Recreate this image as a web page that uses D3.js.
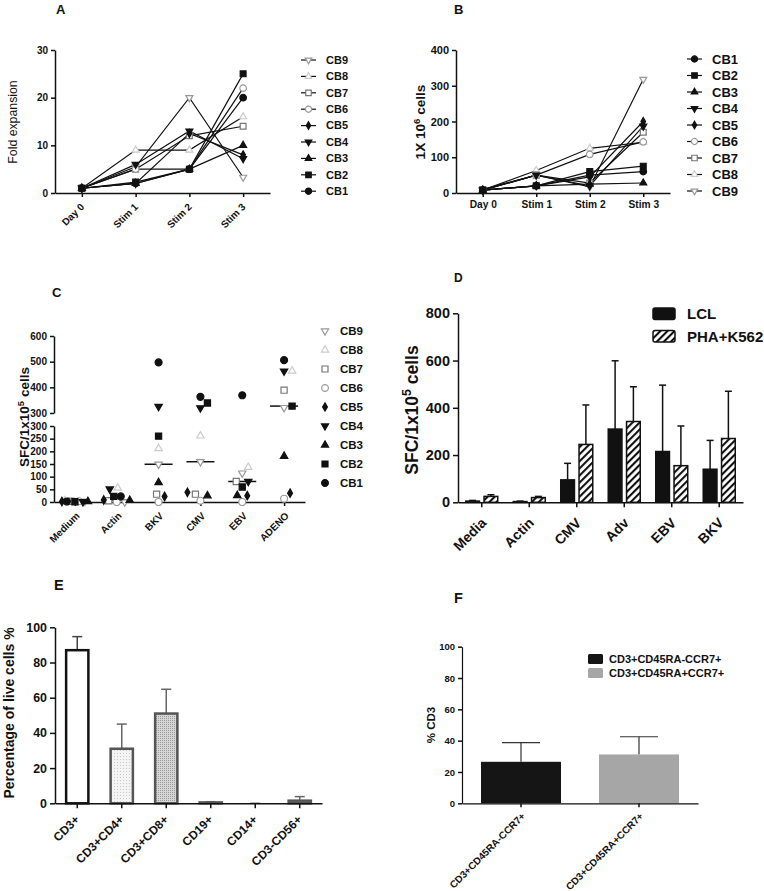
<!DOCTYPE html>
<html>
<head>
<meta charset="utf-8">
<script src="https://d3js.org/d3.v7.min.js"></script>
<style>
  body { margin: 0; background: #fff; }
  svg text { font-family: 'Liberation Sans', Arial, sans-serif; }
</style>
</head>
<body>
<svg id="fig" width="764" height="891"></svg>
<script>
// ---- data ----
const donors = ['CB1', 'CB2', 'CB3', 'CB4', 'CB5', 'CB6', 'CB7', 'CB8', 'CB9']
const timepoints = ['Day 0', 'Stim 1', 'Stim 2', 'Stim 3']

// A: fold expansion, one row per donor
const foldExpansion = [
  [1, 2, 5, 20],
  [1, 2.3, 5, 25],
  [1, 2, 5, 10],
  [1, 6, 13, 7.2],
  [1, 2, 12.5, 8],
  [1, 5, 5, 22],
  [1, 5, 12, 14],
  [1, 9, 9, 16],
  [1, 5.5, 20, 3.3]
]

// B: cell numbers (1x10^6), one row per donor
const cellNumbers = [
  [8, 20, 50, 60],
  [8, 20, 60, 75],
  [8, 20, 25, 28],
  [8, 50, 20, 187],
  [8, 20, 45, 200],
  [8, 50, 108, 143],
  [10, 50, 28, 170],
  [8, 63, 125, 142],
  [8, 50, 17, 318]
]

// C: SFC per donor for each antigen
const antigens = ['Medium', 'Actin', 'BKV', 'CMV', 'EBV', 'ADENO']
const sfcDonor = [
  [2, 22, 497, 363, 369, 506],
  [1, 22, 260, 339, 59, 327],
  [2, 7, 77, 25, 26, 181],
  [1, 51, 325, 320, 81, 463],
  [2, 8, 22, 38, 25, 35],
  [3, 0, 0, 5, 0, 13],
  [3, 5, 31, 31, 81, 389],
  [5, 55, 211, 261, 137, 464],
  [3, 0, 149, 159, 114, 321]
]

// D: mean and SD for LCL and PHA+K562
const peptides = ['Media', 'Actin', 'CMV', 'Adv', 'EBV', 'BKV']
const lclMean = [5, 3, 95, 310, 215, 140]
const lclSd = [3, 2, 70, 289, 281, 122]
const phaMean = [25, 20, 245, 342, 155, 270]
const phaSd = [7, 5, 167, 147, 168, 200]

// E: phenotype
const subsets = ['CD3+', 'CD3+CD4+', 'CD3+CD8+', 'CD19+', 'CD14+', 'CD3-CD56+']
const subsetMean = [87, 31, 51, 0.5, 0, 1.5]
const subsetSd = [7.7, 14, 13.8, 0.4, 0, 2.3]

// F: memory subsets
const memory = ['CD3+CD45RA-CCR7+', 'CD3+CD45RA+CCR7+']
const memoryMean = [26.5, 31.2]
const memorySd = [12.2, 11.3]

// ---- styles ----
const donorStyle = {
  CB1: { shape: d3.symbolCircle, fill: '#111', stroke: '#111', k: 1 },
  CB2: { shape: d3.symbolSquare, fill: '#111', stroke: '#111', k: 1 },
  CB3: { shape: d3.symbolTriangle, fill: '#111', stroke: '#111', k: 0.62 },
  CB4: { shape: d3.symbolTriangle, fill: '#111', stroke: '#111', k: 0.62, down: true },
  CB5: { shape: d3.symbolDiamond, fill: '#111', stroke: '#111', k: 0.55 },
  CB6: { shape: d3.symbolCircle, fill: '#fff', stroke: '#999', k: 1 },
  CB7: { shape: d3.symbolSquare, fill: '#fff', stroke: '#777', k: 1 },
  CB8: { shape: d3.symbolTriangle, fill: '#fff', stroke: '#ccc', k: 0.62 },
  CB9: { shape: d3.symbolTriangle, fill: '#fff', stroke: '#999', k: 0.62, down: true }
}

const svg = d3.select('#fig')
svg.append('rect').attr('width', 764).attr('height', 891).attr('fill', '#fff')

const defs = svg.append('defs')
const hatch = defs.append('pattern').attr('id', 'hatch')
  .attr('patternUnits', 'userSpaceOnUse').attr('width', 5).attr('height', 5)
  .attr('patternTransform', 'rotate(45)')
hatch.append('rect').attr('width', 5).attr('height', 5).attr('fill', '#fff')
hatch.append('line').attr('x1', 1).attr('y1', 0).attr('x2', 1).attr('y2', 5)
  .attr('stroke', '#111').attr('stroke-width', 2.2)

const dotsLight = defs.append('pattern').attr('id', 'dotsLight')
  .attr('patternUnits', 'userSpaceOnUse').attr('width', 3).attr('height', 3)
dotsLight.append('rect').attr('width', 3).attr('height', 3).attr('fill', '#f4f4f4')
dotsLight.append('rect').attr('width', 1).attr('height', 1).attr('fill', '#c8c8c8')

const dotsDark = defs.append('pattern').attr('id', 'dotsDark')
  .attr('patternUnits', 'userSpaceOnUse').attr('width', 2).attr('height', 2)
dotsDark.append('rect').attr('width', 2).attr('height', 2).attr('fill', '#d6d6d6')
dotsDark.append('rect').attr('width', 1).attr('height', 1).attr('fill', '#9a9a9a')

// ---- helpers ----
function fmtAxis (g, size) {
  g.attr('font-size', size).attr('font-weight', 'bold')
  g.select('.domain').attr('stroke', '#111').attr('stroke-width', 1.5)
  g.selectAll('.tick line').attr('stroke', '#111').attr('stroke-width', 1.5)
  g.selectAll('.tick text').attr('fill', '#111')
}

function rotateLabels (g, dx, dy) {
  g.selectAll('.tick text')
    .attr('x', 0).attr('y', 0).attr('dy', '0.35em')
    .attr('text-anchor', 'end')
    .attr('transform', `translate(${dx},${dy}) rotate(-45)`)
}

function yLabel (x, y, size, weight, main, sup, rest) {
  const t = svg.append('text')
    .attr('transform', `translate(${x},${y}) rotate(-90)`)
    .attr('text-anchor', 'middle')
    .attr('font-size', size).attr('font-weight', weight).attr('fill', '#111')
  t.append('tspan').text(main)
  if (sup) {
    const shift = size * 0.4
    t.append('tspan').attr('dy', -shift).attr('font-size', size * 0.7).text(sup)
    t.append('tspan').attr('dy', shift).text(rest)
  }
}

function panelLabel (txt, x, y, size) {
  svg.append('text').attr('x', x).attr('y', y)
    .attr('font-size', size).attr('font-weight', 'bold').attr('fill', '#111').text(txt)
}

function drawSymbol (g, donor, x, y, size) {
  const s = donorStyle[donor]
  g.append('path')
    .attr('d', d3.symbol().type(s.shape).size(size * s.k)())
    .attr('transform', `translate(${x},${y})` + (s.down ? ' rotate(180)' : ''))
    .attr('fill', s.fill)
    .attr('stroke', s.stroke)
    .attr('stroke-width', 1.2)
}

function linePanel (values, x, y) {
  const g = svg.append('g')
  const line = d3.line().x((d, j) => x(timepoints[j])).y(d => y(d))
  donors.forEach((dn, i) => {
    g.append('path').datum(values[i]).attr('d', line)
      .attr('fill', 'none').attr('stroke', '#111').attr('stroke-width', 1.2)
  })
  donors.slice().reverse().forEach(dn => {
    const i = donors.indexOf(dn)
    values[i].forEach((v, j) => drawSymbol(g, dn, x(timepoints[j]), y(v), 34))
  })
}

function lineLegend (order, x, y0, dy, size) {
  const g = svg.append('g')
  order.forEach((dn, i) => {
    const y = y0 + i * dy
    g.append('line').attr('x1', x).attr('x2', x + 15).attr('y1', y).attr('y2', y)
      .attr('stroke', '#111').attr('stroke-width', 1.2)
    drawSymbol(g, dn, x + 7.5, y, 30)
    g.append('text').attr('x', x + 25).attr('y', y).attr('dy', '0.35em')
      .attr('font-size', size).attr('font-weight', 'bold').attr('fill', '#111').text(dn)
  })
}

// ---- Panel A ----
panelLabel('A', 56, 14, 13)
const xA = d3.scalePoint().domain(timepoints).range([55, 270]).padding(0.5)
const yA = d3.scaleLinear().domain([0, 30]).range([193, 50])
const axA = svg.append('g').attr('transform', 'translate(0,193)')
  .call(d3.axisBottom(xA).tickSize(4).tickSizeOuter(0))
fmtAxis(axA, 10)
rotateLabels(axA, 0, 12)
const ayA = svg.append('g').attr('transform', 'translate(55,0)')
  .call(d3.axisLeft(yA).tickValues([0, 10, 20, 30]).tickSize(4).tickSizeOuter(0))
fmtAxis(ayA, 10)
yLabel(17, 122, 12.3, 'normal', 'Fold expansion')
linePanel(foldExpansion, xA, yA)
lineLegend(donors.slice().reverse(), 301, 60, 16.4, 11)

// ---- Panel B ----
panelLabel('B', 454, 14, 13)
const xB = d3.scalePoint().domain(timepoints).range([456, 670]).padding(0.5)
const yB = d3.scaleLinear().domain([0, 400]).range([193, 50])
const axB = svg.append('g').attr('transform', 'translate(0,193)')
  .call(d3.axisBottom(xB).tickSize(4).tickSizeOuter(0))
fmtAxis(axB, 10.2)
axB.selectAll('.tick text').attr('y', 8)
const ayB = svg.append('g').attr('transform', 'translate(456,0)')
  .call(d3.axisLeft(yB).tickValues([0, 100, 200, 300, 400]).tickSize(4).tickSizeOuter(0))
fmtAxis(ayB, 11)
yLabel(425, 122, 13.6, 'bold', '1X 10', '6', ' cells')
linePanel(cellNumbers, xB, yB)
lineLegend(donors, 687, 59, 16.5, 13)

// ---- Panel C ----
panelLabel('C', 52, 297, 13)
const xC = d3.scalePoint().domain(antigens).range([54, 305]).padding(0.5)
const yCLow = d3.scaleLinear().domain([0, 300]).range([502, 426])
const yCHigh = d3.scaleLinear().domain([300, 600]).range([413, 336])
const yC = v => v <= 300 ? yCLow(v) : yCHigh(v)
const axC = svg.append('g').attr('transform', 'translate(0,502)')
  .call(d3.axisBottom(xC).tickSize(4).tickSizeOuter(0))
fmtAxis(axC, 10)
rotateLabels(axC, 2.5, 12)
const ayCLow = svg.append('g').attr('transform', 'translate(54,0)')
  .call(d3.axisLeft(yCLow).tickValues(d3.range(0, 301, 50)).tickSize(4).tickSizeOuter(0))
fmtAxis(ayCLow, 10)
const ayCHigh = svg.append('g').attr('transform', 'translate(54,0)')
  .call(d3.axisLeft(yCHigh).tickValues([300, 400, 500, 600]).tickSize(4).tickSizeOuter(0))
fmtAxis(ayCHigh, 10)
yLabel(29, 417, 13.5, 'bold', 'SFC/1x10', '5', ' cells')

// scatter with a small greedy swarm inside each column
const gC = svg.append('g')
antigens.forEach((ag, j) => {
  const cx = xC(ag)
  const pts = donors.map((dn, i) => ({ dn, v: sfcDonor[i][j], py: yC(sfcDonor[i][j]) }))
  const order = d3.range(pts.length).sort((a, b) => pts[a].v - pts[b].v)
  const cands = [0]
  for (let k = 1; k <= 13; k++) cands.push(k, -k)
  const placed = []
  order.forEach(i => {
    let best = 0
    let bestScore = -1
    for (const dx of cands) {
      const minD = placed.length ? d3.min(placed, p => Math.hypot(p.dx - dx, p.py - pts[i].py)) : Infinity
      if (minD >= 8) { best = dx; break }
      if (minD > bestScore) { bestScore = minD; best = dx }
    }
    pts[i].dx = best
    placed.push(pts[i])
  })
  const med = d3.median(pts, p => p.v)
  gC.append('line').attr('x1', cx - 14).attr('x2', cx + 14)
    .attr('y1', yC(med)).attr('y2', yC(med)).attr('stroke', '#111').attr('stroke-width', 1.5)
  donors.slice().reverse().forEach(dn => {
    const p = pts.find(q => q.dn === dn)
    drawSymbol(gC, dn, cx + p.dx, p.py, 38)
  })
})
// legend C
donors.slice().reverse().forEach((dn, i) => {
  const y = 331 + i * 19
  drawSymbol(gC, dn, 325, y, 36)
  gC.append('text').attr('x', 340).attr('y', y).attr('dy', '0.35em')
    .attr('font-size', 11.5).attr('font-weight', 'bold').attr('fill', '#111').text(dn)
})

// ---- Panel D ----
panelLabel('D', 454, 282, 12)
const xD = d3.scaleBand().domain(peptides).range([458, 743]).paddingInner(0.326).paddingOuter(0.163)
const xDsub = d3.scaleBand().domain(['LCL', 'PHA']).range([0, xD.bandwidth()]).paddingInner(0.25)
const yD = d3.scaleLinear().domain([0, 800]).range([502.3, 313.3])
const axD = svg.append('g').attr('transform', 'translate(0,502.3)')
  .call(d3.axisBottom(xD).tickSize(5).tickSizeOuter(0))
fmtAxis(axD, 14)
rotateLabels(axD, 2, 18)
const ayD = svg.append('g').attr('transform', 'translate(458,0)')
  .call(d3.axisLeft(yD).tickValues([0, 200, 400, 600, 800]).tickSize(5).tickSizeOuter(0))
fmtAxis(ayD, 14.5)
yLabel(418, 410, 17.5, 'bold', 'SFC/1x10', '5', ' cells')

const gD = svg.append('g')
const seriesD = [
  { key: 'LCL', mean: lclMean, sd: lclSd, fill: '#111' },
  { key: 'PHA', mean: phaMean, sd: phaSd, fill: 'url(#hatch)' }
]
seriesD.forEach(s => {
  peptides.forEach((p, j) => {
    const x0 = xD(p) + xDsub(s.key)
    const w = xDsub.bandwidth()
    const cx = x0 + w / 2
    gD.append('line').attr('x1', cx).attr('x2', cx)
      .attr('y1', yD(s.mean[j])).attr('y2', yD(s.mean[j] + s.sd[j]))
      .attr('stroke', '#111').attr('stroke-width', 1.5)
    gD.append('line').attr('x1', cx - 3.5).attr('x2', cx + 3.5)
      .attr('y1', yD(s.mean[j] + s.sd[j])).attr('y2', yD(s.mean[j] + s.sd[j]))
      .attr('stroke', '#111').attr('stroke-width', 1.5)
    gD.append('rect').attr('x', x0).attr('width', w)
      .attr('y', yD(s.mean[j])).attr('height', yD(0) - yD(s.mean[j]))
      .attr('fill', s.fill).attr('stroke', '#111').attr('stroke-width', 1.5)
  })
})
// legend D
const legD = [{ name: 'LCL', fill: '#111' }, { name: 'PHA+K562', fill: 'url(#hatch)' }]
legD.forEach((l, i) => {
  const y = 308 + i * 22.5
  gD.append('rect').attr('x', 653).attr('y', y).attr('width', 22).attr('height', 11.5).attr('rx', 2)
    .attr('fill', l.fill).attr('stroke', '#111').attr('stroke-width', 1.5)
  gD.append('text').attr('x', 687).attr('y', y + 6).attr('dy', '0.35em')
    .attr('font-size', 15).attr('font-weight', 'bold').attr('fill', '#111').text(l.name)
})

// ---- Panel E ----
panelLabel('E', 54, 590, 14.5)
const xE = d3.scaleBand().domain(subsets).range([55, 322]).paddingInner(0.5).paddingOuter(0.25)
const yE = d3.scaleLinear().domain([0, 100]).range([803.3, 627.3])
const fillE = ['#fff', 'url(#dotsLight)', 'url(#dotsDark)', '#ccc', '#ccc', '#888']
const strokeE = ['#111', '#555', '#555', '#555', '#555', '#555']
const gE = svg.append('g')
subsets.forEach((s, j) => {
  const cx = xE(s) + xE.bandwidth() / 2
  const top = yE(subsetMean[j] + subsetSd[j])
  gE.append('line').attr('x1', cx).attr('x2', cx).attr('y1', yE(subsetMean[j])).attr('y2', top)
    .attr('stroke', strokeE[j] === '#111' ? '#444' : '#666').attr('stroke-width', 1.5)
  gE.append('line').attr('x1', cx - 5).attr('x2', cx + 5).attr('y1', top).attr('y2', top)
    .attr('stroke', strokeE[j] === '#111' ? '#444' : '#666').attr('stroke-width', 1.5)
  gE.append('rect').attr('x', xE(s)).attr('width', xE.bandwidth())
    .attr('y', yE(subsetMean[j])).attr('height', yE(0) - yE(subsetMean[j]))
    .attr('fill', fillE[j]).attr('stroke', strokeE[j]).attr('stroke-width', 2.5)
})
const axE = svg.append('g').attr('transform', 'translate(0,803.3)')
  .call(d3.axisBottom(xE).tickSize(5).tickSizeOuter(0))
fmtAxis(axE, 12)
rotateLabels(axE, 0, 14)
const ayE = svg.append('g').attr('transform', 'translate(55,0)')
  .call(d3.axisLeft(yE).tickValues([0, 20, 40, 60, 80, 100]).tickSize(5).tickSizeOuter(0))
fmtAxis(ayE, 12.4)
yLabel(14, 713, 14, 'bold', 'Percentage of live cells %')

// ---- Panel F ----
panelLabel('F', 454, 603, 14.5)
const xF = d3.scaleBand().domain(memory).range([462, 698]).paddingInner(0.322).paddingOuter(0.161)
const yF = d3.scaleLinear().domain([0, 100]).range([803.3, 646.7])
const fillF = ['#151515', '#a6a6a6']
const gF = svg.append('g')
memory.forEach((m, j) => {
  const cx = xF(m) + xF.bandwidth() / 2
  const top = yF(memoryMean[j] + memorySd[j])
  gF.append('line').attr('x1', cx).attr('x2', cx).attr('y1', yF(memoryMean[j])).attr('y2', top)
    .attr('stroke', '#333').attr('stroke-width', 1.2)
  gF.append('line').attr('x1', cx - 19).attr('x2', cx + 19).attr('y1', top).attr('y2', top)
    .attr('stroke', '#333').attr('stroke-width', 1.2)
  gF.append('rect').attr('x', xF(m)).attr('width', xF.bandwidth())
    .attr('y', yF(memoryMean[j])).attr('height', yF(0) - yF(memoryMean[j]))
    .attr('fill', fillF[j])
})
const axF = svg.append('g').attr('transform', 'translate(0,803.3)')
  .call(d3.axisBottom(xF).tickSize(4).tickSizeOuter(0))
fmtAxis(axF, 10)
axF.select('.domain').attr('stroke-width', 1.2)
rotateLabels(axF, 2.5, 11)
const ayF = svg.append('g').attr('transform', 'translate(462,0)')
  .call(d3.axisLeft(yF).tickValues([0, 20, 40, 60, 80, 100]).tickSize(4).tickSizeOuter(0))
fmtAxis(ayF, 9.5)
ayF.select('.domain').attr('stroke-width', 1.2)
yLabel(435, 725, 11.5, 'bold', '% CD3')
memory.forEach((m, j) => {
  const y = 654 + j * 14
  gF.append('rect').attr('x', 588).attr('y', y).attr('width', 15).attr('height', 10).attr('rx', 1.5)
    .attr('fill', fillF[j])
  gF.append('text').attr('x', 609).attr('y', y + 5).attr('dy', '0.35em')
    .attr('font-size', 11).attr('font-weight', 'bold').attr('fill', '#111').text(m)
})
</script>
</body>
</html>
